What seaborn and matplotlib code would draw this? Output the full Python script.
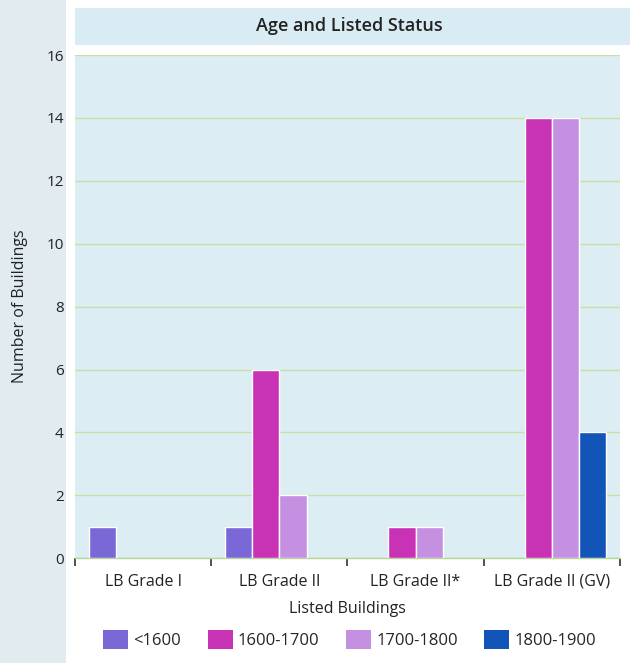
import matplotlib
matplotlib.use("Agg")
import matplotlib.pyplot as plt
import seaborn as sns
import pandas as pd
from matplotlib.patches import Rectangle, Patch

categories = ["LB Grade I", "LB Grade II", "LB Grade II*", "LB Grade II (GV)"]
periods = ["<1600", "1600-1700", "1700-1800", "1800-1900"]
pre_1600 = [1, 1, 0, 0]
c1600_1700 = [0, 6, 1, 14]
c1700_1800 = [0, 2, 1, 14]
c1800_1900 = [0, 0, 0, 4]
colors = ["#7a68d6", "#c832b4", "#c590e2", "#1354b8"]
yticks = [0, 2, 4, 6, 8, 10, 12, 14, 16]

rows = []
for series, name in zip([pre_1600, c1600_1700, c1700_1800, c1800_1900], periods):
    for cat, v in zip(categories, series):
        if v > 0:
            rows.append({"Listed Buildings": cat, "Period": name, "Count": v})
df = pd.DataFrame(rows)

sns.set_theme(style="white")
plt.rcParams["font.family"] = ["Open Sans", "DejaVu Sans"]

fig = plt.figure(figsize=(6.3, 6.63), dpi=100)
fig.patch.set_facecolor("white")

# shaded strip on the left edge and the title band
fig.patches.append(Rectangle((0, 0), 0.105, 1, transform=fig.transFigure,
                             facecolor="#e2ecf0", edgecolor="none", zorder=-10))
fig.patches.append(Rectangle((0.119, 0.932), 0.881, 0.056, transform=fig.transFigure,
                             facecolor="#d9ecf3", edgecolor="none", zorder=-10))
fig.text(0.555, 0.961, "Age and Listed Status", ha="center", va="center",
         fontsize=13, fontweight="semibold", color="#222222")

ax = fig.add_axes([0.119, 0.158, 0.865, 0.759])
ax.set_facecolor("#dcedf3")

sns.barplot(data=df, x="Listed Buildings", y="Count", hue="Period",
            hue_order=periods, order=categories, palette=colors,
            saturation=1, width=0.8, edgecolor="white", linewidth=1.0, ax=ax,
            legend=False, zorder=3)

ax.set_ylim(0, 16)
ax.set_xlim(-0.5, 3.5)
ax.set_yticks(yticks)
ax.yaxis.grid(True, color="#c9e0a2", linewidth=1.0, zorder=0)
ax.set_axisbelow(True)
for s in ["top", "right", "left"]:
    ax.spines[s].set_visible(False)
ax.spines["bottom"].set_color("#b9d39a")
ax.spines["bottom"].set_linewidth(1.0)

ax.set_xticks(range(len(categories)))
ax.set_xticklabels(categories)
ax.set_xticks([-0.5, 0.5, 1.5, 2.5, 3.5], minor=True)
ax.tick_params(axis="x", which="major", length=0, pad=11, labelsize=11.5, labelcolor="#222222")
ax.tick_params(axis="x", which="minor", length=6, width=1.2, color="#333333", direction="out", bottom=True)
ax.tick_params(axis="y", length=0, labelsize=11, labelcolor="#222222", pad=8)

ax.set_xlabel("Listed Buildings", fontsize=11.5, color="#222222", labelpad=8)
ax.set_ylabel("Number of Buildings", fontsize=11.5, color="#222222", labelpad=13)

handles = [Patch(facecolor=c, edgecolor="none") for c in colors]
fig.legend(handles, periods, loc="center", bbox_to_anchor=(0.555, 0.035), ncol=4,
           frameon=False, fontsize=12, handlelength=1.5, handleheight=1.4,
           handletextpad=0.3, columnspacing=1.6)

fig.savefig("out.png", dpi=100, facecolor=fig.get_facecolor())
